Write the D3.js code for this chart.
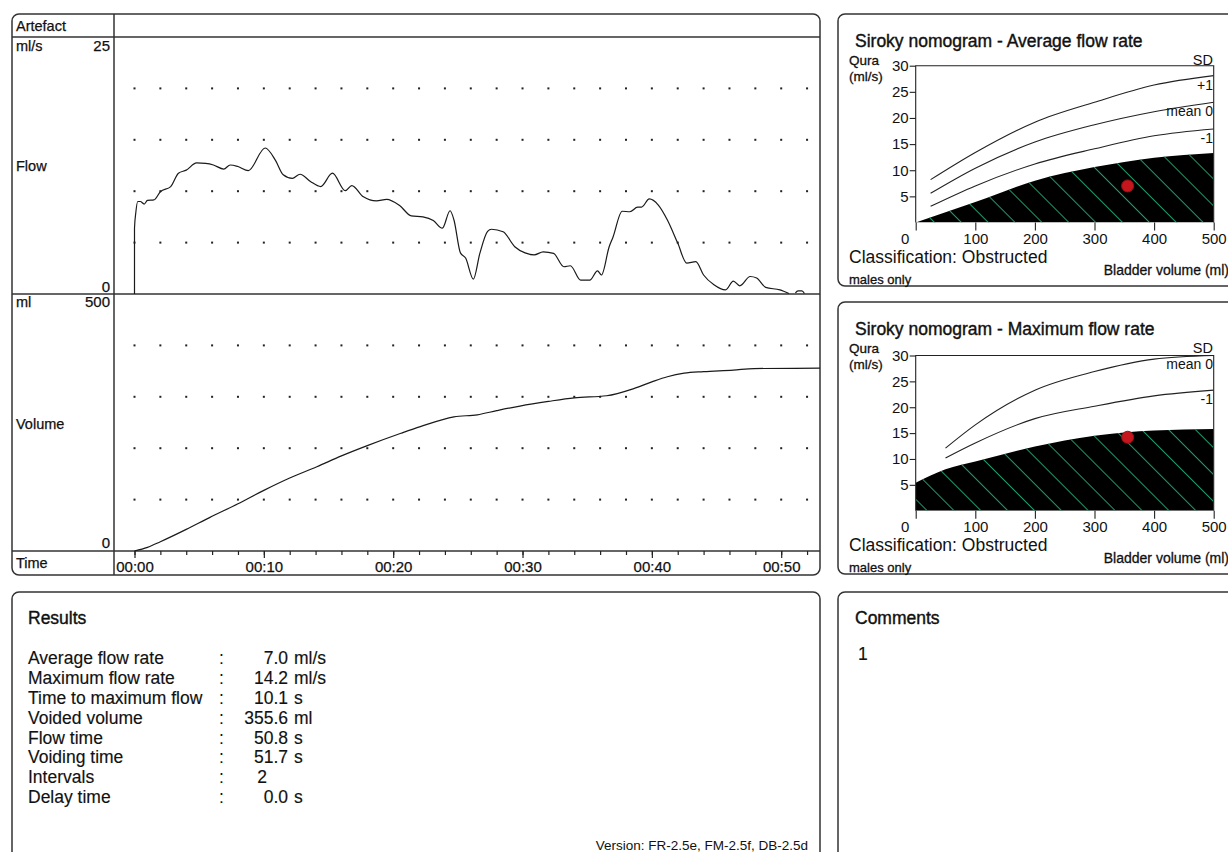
<!DOCTYPE html>
<html>
<head>
<meta charset="utf-8">
<title>Uroflowmetry report</title>
<script src="https://cdnjs.cloudflare.com/ajax/libs/d3/7.8.5/d3.min.js"></script>
<style>
  html, body { margin: 0; padding: 0; background: #fff; }
  svg { display: block; font-family: "Liberation Sans", Arial, sans-serif; }
</style>
</head>
<body>
<svg id="chart" width="1228" height="852"></svg>
<script>
// flow trace (s, ml/s); null marks the gap between the two intervals
var flowTime = [0, 0, 0.1, 0.25, 0.45, 0.75, 1.0, 1.5, 2.0, 2.8, 3.4, 4.0, 4.8, 5.5, 6.1, 6.9, 7.4, 8.0, 8.8,
  10.1, 10.9, 11.5, 12.2, 12.8, 13.6, 14.4, 15.3, 16.3, 16.8, 17.7, 18.7, 19.5, 20.5, 21.4, 22.3, 23.1, 23.8,
  24.4, 24.7, 25.2, 25.6, 26.2, 26.7, 27.3, 27.6, 28.5, 29.4, 30.2, 30.9, 31.6, 32.4, 33.2, 33.7, 34.5, 35.2,
  35.8, 36.1, 36.7, 37.0, 37.7, 38.3, 38.9, 39.2, 39.8, 40.5, 41.2, 42.0, 42.7, 43.4, 44.0, 44.8, 45.7, 46.3,
  46.8, 47.6, 48.1, 48.8, 49.9, 50.6, 50.8, 51.1, 51.3, 51.6, 51.8];
var flowRate = [0, 6.4, 7.9, 9.0, 9.0, 8.75, 9.1, 9.15, 9.95, 10.45, 11.75, 12.05, 12.75, 12.7, 12.55, 12.15, 12.55, 12.4, 12.0,
  14.2, 13.0, 11.6, 11.25, 11.65, 10.95, 10.45, 11.75, 10.05, 10.55, 9.45, 9.05, 9.2, 8.6, 7.6, 7.5, 7.15, 6.4,
  8.1, 7.2, 4.0, 3.5, 1.45, 3.95, 6.1, 6.3, 6.05, 4.6, 4.0, 3.8, 4.1, 3.95, 2.65, 2.75, 1.35, 1.35,
  2.25, 1.85, 4.6, 5.55, 8.05, 8.0, 8.45, 8.45, 9.25, 8.65, 7.2, 4.95, 3.0, 3.15, 1.85, 0.9, 0.4, 1.25,
  0.8, 1.7, 1.55, 0.65, 0.4, 0.05, null, 0.1, 0.3, 0.3, 0.05];

// voided volume (s, ml)
var volTime = [0, 1, 2, 4, 5.8, 8, 10, 12, 14.1, 16, 18, 20.6, 22.1, 24.7, 26.5, 28, 29.8, 32, 34, 36.5,
  38.6, 40, 41.2, 42.5, 44, 46.3, 47.9, 53];
var volValue = [0, 7, 18, 42, 65, 92, 118, 142, 164, 185, 205, 229, 242, 261, 265, 273, 282, 291, 298, 302,
  316, 329, 339, 346, 349, 352, 355, 355.6];

var flowGridRows = [5, 10, 15, 20];
var volGridRows = [100, 200, 300, 400];
var timeMinorTicks = d3.range(0, 53, 2);
var timeMajorTicks = [0, 10, 20, 30, 40, 50];

// Siroky nomogram, average flow rate (bladder volume ml -> ml/s)
var avgSdVolume = [25, 100, 200, 300, 400, 500];
var avgPlus1 = [8.2, 13.4, 19.2, 23.0, 26.3, 28.1];
var avgMean = [5.6, 10.4, 15.4, 18.7, 21.2, 23.0];
var avgMinus1 = [3.1, 7.0, 11.2, 14.1, 16.6, 17.9];
var avgObstrVolume = [0, 100, 200, 300, 400, 500];
var avgObstr = [0, 3.9, 8.0, 10.6, 12.4, 13.3];

// Siroky nomogram, maximum flow rate
var maxSdVolume = [50, 100, 200, 300, 400, 500];
var maxMean = [12.1, 16.6, 23.3, 26.9, 29.3, 30.0];
var maxMinus1 = [10.2, 13.1, 17.8, 20.2, 22.2, 23.3];
var maxObstrVolume = [0, 50, 100, 200, 300, 400, 500];
var maxObstr = [5.4, 8.0, 9.5, 12.4, 14.5, 15.5, 15.8];

var nomoTicksX = [0, 100, 200, 300, 400, 500];
var nomoTicksY = [5, 10, 15, 20, 25, 30];

var resultLabels = ["Average flow rate", "Maximum flow rate", "Time to maximum flow", "Voided volume",
  "Flow time", "Voiding time", "Intervals", "Delay time"];
var resultValues = ["7.0", "14.2", "10.1", "355.6", "50.8", "51.7", "2", "0.0"];
var resultUnits = ["ml/s", "ml/s", "s", "ml", "s", "s", "", "s"];

var INK = "#111";
var svg = d3.select("#chart");

function label(g, x, y, s, size, anchor, heavy) {
  return g.append("text")
    .attr("x", x).attr("y", y).attr("dy", "0.35em")
    .attr("font-size", size)
    .attr("text-anchor", anchor || "start")
    .attr("fill", INK)
    .attr("stroke", heavy ? INK : null)
    .attr("stroke-width", heavy || null)
    .text(s);
}

function panel(x0, y0, x1, y1) {
  svg.append("rect")
    .attr("x", x0).attr("y", y0)
    .attr("width", x1 - x0).attr("height", y1 - y0)
    .attr("rx", 7).attr("ry", 7)
    .attr("fill", "none").attr("stroke", "#333").attr("stroke-width", 1.5);
}

function hline(x0, x1, y) {
  svg.append("line").attr("x1", x0).attr("x2", x1).attr("y1", y).attr("y2", y)
    .attr("stroke", "#333").attr("stroke-width", 1.5);
}

var defs = svg.append("defs");
defs.append("pattern")
  .attr("id", "hatch")
  .attr("patternUnits", "userSpaceOnUse")
  .attr("width", 19).attr("height", 19)
  .attr("patternTransform", "rotate(-45)")
  .append("line")
  .attr("x1", 9.5).attr("x2", 9.5).attr("y1", 0).attr("y2", 19)
  .attr("stroke", "#1f9a68").attr("stroke-width", 1);

//---
// Main trace panel: flow + volume over time
//
var x = d3.scaleLinear().domain([0, 53]).range([134.5, 820]);
var yFlow = d3.scaleLinear().domain([0, 25]).range([294, 37]);
var yVol = d3.scaleLinear().domain([0, 500]).range([551, 294]);

panel(12, 14, 820, 575);
hline(12, 820, 37);
hline(12, 820, 294);
hline(12, 820, 551);
svg.append("line").attr("x1", 114).attr("x2", 114).attr("y1", 14).attr("y2", 575)
  .attr("stroke", "#333").attr("stroke-width", 1.5);

var main = svg.append("g");

// dotted grid
[[flowGridRows, yFlow], [volGridRows, yVol]].forEach(function (p) {
  p[0].forEach(function (r) {
    main.selectAll(null).data(timeMinorTicks).enter().append("rect")
      .attr("x", function (t) { return x(t) - 1; })
      .attr("y", p[1](r) - 1)
      .attr("width", 2).attr("height", 2)
      .attr("fill", "#222");
  });
});

var flowPts = flowTime.map(function (t, i) { return { t: t, q: flowRate[i] }; });
main.append("path")
  .datum(flowPts)
  .attr("fill", "none").attr("stroke", "#1a1a1a").attr("stroke-width", 1.2)
  .attr("stroke-linejoin", "round")
  .attr("d", d3.line()
    .defined(function (d) { return d.q !== null; })
    .x(function (d) { return x(d.t); })
    .y(function (d) { return yFlow(d.q); })
    .curve(d3.curveMonotoneX));

var volPts = volTime.map(function (t, i) { return { t: t, v: volValue[i] }; });
main.append("path")
  .datum(volPts)
  .attr("fill", "none").attr("stroke", "#1a1a1a").attr("stroke-width", 1.2)
  .attr("d", d3.line()
    .x(function (d) { return x(d.t); })
    .y(function (d) { return yVol(d.v); })
    .curve(d3.curveMonotoneX));

// time axis
var axMinor = main.append("g").attr("transform", "translate(0,551)")
  .call(d3.axisBottom(x).tickValues(timeMinorTicks).tickSize(4).tickFormat(""));
var axMajor = main.append("g").attr("transform", "translate(0,551)")
  .call(d3.axisBottom(x).tickValues(timeMajorTicks).tickSize(7).tickPadding(3)
    .tickFormat(function (t) { return "00:" + d3.format("02d")(t); }));
[axMinor, axMajor].forEach(function (a) {
  a.select(".domain").remove();
  a.selectAll("line").attr("stroke", "#222").attr("stroke-width", 1.2);
  a.selectAll("text").attr("font-size", 15).attr("fill", INK).attr("font-family", null)
    .attr("stroke", INK).attr("stroke-width", 0.25);
});

// left column labels
label(svg, 16, 26, "Artefact", 14.5, "start", 0.25);
label(svg, 16, yFlow(25) + 9, "ml/s", 14.5, "start", 0.25);
label(svg, 110, yFlow(25) + 9, "25", 15, "end", 0.25);
label(svg, 16, 166, "Flow", 14.5, "start", 0.25);
label(svg, 110, yFlow(0) - 7, "0", 15, "end", 0.25);
label(svg, 16, yVol(500) + 8, "ml", 14.5, "start", 0.25);
label(svg, 110, yVol(500) + 8, "500", 15, "end", 0.25);
label(svg, 16, 424, "Volume", 14.5, "start", 0.25);
label(svg, 110, yVol(0) - 8, "0", 15, "end", 0.25);
label(svg, 16, 563, "Time", 14.5, "start", 0.25);

//---
// Siroky nomograms
//
function siroky(cfg) {
  var top = cfg.top;
  panel(838, top, 1245, top + 272);
  var g = svg.append("g");
  var sx = d3.scaleLinear().domain([0, 500]).range([915.7, 1213.7]);
  var sy = d3.scaleLinear().domain([0, 30]).range([cfg.yZero, cfg.yTop]);

  var clipId = cfg.id + "-clip";
  defs.append("clipPath").attr("id", clipId).append("rect")
    .attr("x", sx(0)).attr("y", sy(30))
    .attr("width", sx(500) - sx(0)).attr("height", sy(0) - sy(30));

  var plot = g.append("g").attr("clip-path", "url(#" + clipId + ")");
  var obstr = cfg.obstrVolume.map(function (v, i) { return { v: v, q: cfg.obstr[i] }; });
  var area = d3.area()
    .x(function (d) { return sx(d.v); })
    .y0(sy(0))
    .y1(function (d) { return sy(d.q); })
    .curve(d3.curveMonotoneX);
  plot.append("path").datum(obstr).attr("fill", "#000").attr("d", area);
  plot.append("path").datum(obstr).attr("fill", "url(#hatch)").attr("d", area);

  var line = d3.line()
    .x(function (d) { return sx(d.v); })
    .y(function (d) { return sy(d.q); })
    .curve(d3.curveMonotoneX);
  cfg.curves.forEach(function (c) {
    var pts = cfg.sdVolume.map(function (v, i) { return { v: v, q: c.values[i] }; });
    plot.append("path").datum(pts)
      .attr("fill", "none").attr("stroke", "#222").attr("stroke-width", 1.1)
      .attr("d", line);
    label(g, 1213, sy(c.values[c.values.length - 1]) + 9, c.name, 14, "end");
  });

  // frame
  g.append("path")
    .attr("d", "M" + sx(0) + "," + sy(0) + "V" + sy(30) + "H" + sx(500) + "V" + sy(0))
    .attr("fill", "none").attr("stroke", "#222").attr("stroke-width", 1.1);

  var ax = g.append("g").attr("transform", "translate(0," + sy(0) + ")")
    .call(d3.axisBottom(sx).tickValues(nomoTicksX).tickSize(8).tickPadding(3));
  ax.selectAll("text").filter(function (d) { return d === 0; }).attr("x", -11);
  var ay = g.append("g").attr("transform", "translate(" + sx(0) + ",0)")
    .call(d3.axisLeft(sy).tickValues(nomoTicksY).tickSize(6).tickPadding(1));
  [ax, ay].forEach(function (a) {
    a.select(".domain").remove();
    a.selectAll("line").attr("stroke", "#222").attr("stroke-width", 1.1);
    a.selectAll("text").attr("font-size", 15).attr("fill", INK).attr("font-family", null);
  });

  g.append("circle")
    .attr("cx", sx(cfg.dot[0])).attr("cy", sy(cfg.dot[1])).attr("r", 6)
    .attr("fill", "#c5161d").attr("stroke", "#9a1015").attr("stroke-width", 1);

  label(g, 855, top + 26.5, cfg.title, 17.5, "start", 0.4);
  label(g, 849, top + 46, "Qura", 13.5, "start", 0.3);
  label(g, 849, top + 62, "(ml/s)", 13.5, "start", 0.3);
  label(g, 1213, top + 45.5, "SD", 14.5, "end");
  label(g, 849, top + 243, "Classification: Obstructed", 17.5);
  label(g, 1229, top + 256.5, "Bladder volume (ml)", 14, "end", 0.3);
  label(g, 849, top + 265.5, "males only", 13, "start", 0.3);
}

var voided = +resultValues[3];

siroky({
  id: "avg", top: 14, yZero: 222.5, yTop: 65.7,
  title: "Siroky nomogram - Average flow rate",
  sdVolume: avgSdVolume,
  curves: [{ name: "+1", values: avgPlus1 }, { name: "mean 0", values: avgMean }, { name: "-1", values: avgMinus1 }],
  obstrVolume: avgObstrVolume, obstr: avgObstr,
  dot: [voided, +resultValues[0]]
});

siroky({
  id: "max", top: 302, yZero: 510.7, yTop: 355.5,
  title: "Siroky nomogram - Maximum flow rate",
  sdVolume: maxSdVolume,
  curves: [{ name: "mean 0", values: maxMean }, { name: "-1", values: maxMinus1 }],
  obstrVolume: maxObstrVolume, obstr: maxObstr,
  dot: [voided, +resultValues[1]]
});

//---
// Results and comments
//
panel(12, 592, 820, 880);
panel(838, 592, 1245, 880);

label(svg, 28, 618, "Results", 17.5, "start", 0.4);
resultLabels.forEach(function (s, i) {
  var yy = 658.3 + i * 19.78;
  var v = resultValues[i];
  label(svg, 28, yy, s, 17.5, "start", 0.15);
  label(svg, 221.5, yy, ":", 17.5, "middle");
  label(svg, v.indexOf(".") < 0 ? 267 : 288, yy, v, 17.5, "end", 0.15);
  if (resultUnits[i]) label(svg, 294, yy, resultUnits[i], 17.5, "start", 0.15);
});
svg.append("text")
  .attr("x", 808).attr("y", 850)
  .attr("font-size", 13.5).attr("text-anchor", "end").attr("fill", INK)
  .text("Version: FR-2.5e, FM-2.5f, DB-2.5d");

label(svg, 855, 618, "Comments", 17.5, "start", 0.4);
label(svg, 858, 654, "1", 17.5, "start", 0.15);
</script>
</body>
</html>
